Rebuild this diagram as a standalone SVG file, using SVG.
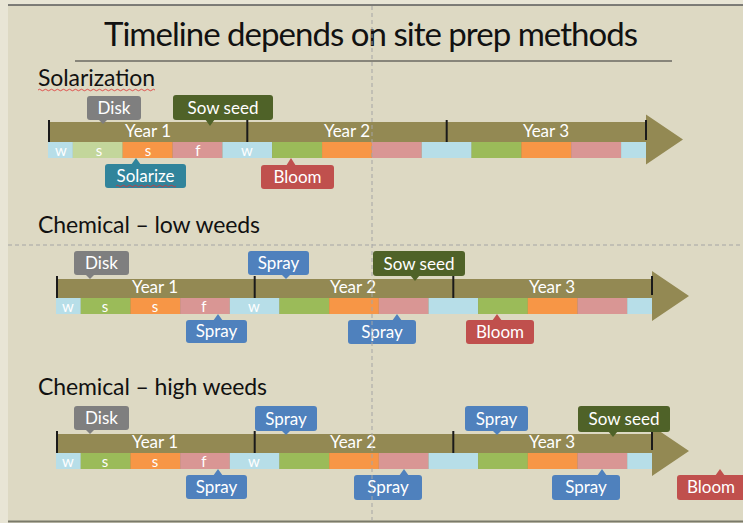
<svg xmlns="http://www.w3.org/2000/svg" width="743" height="523" viewBox="0 0 743 523">
<defs>
<style>
.bg{fill:#DDD9C3}
.arrow{fill:#938953}
.tick{stroke:#1a1a1a;stroke-width:2}
.w{fill:#B7DEE8}.sp{fill:#C3D69B}.g{fill:#9BBB59}.o{fill:#F79646}.p{fill:#D99694}
.lbl{font-family:Lato,"Open Sans",sans-serif;fill:#fff;font-size:17px;text-anchor:middle}
.sl{font-family:Lato,"Open Sans",sans-serif;fill:#fff;font-size:15px;text-anchor:middle}
.hd{font-family:Lato,"Open Sans",sans-serif;fill:#111;font-size:23px}
.gray{fill:#7F7F7F}.dgreen{fill:#4F6228}.teal{fill:#31849B}.red{fill:#C0504D}.blue{fill:#4F81BD}
.guide{stroke:#A5A5A5;stroke-width:1;stroke-dasharray:4 3;fill:none}
.squig{stroke:#E03030;stroke-width:0.8;fill:none}
</style>
</defs>
<rect width="743" height="523" fill="#E8E5D5"/>
<rect class="bg" x="8" y="5" width="735" height="516"/>
<line x1="8" y1="5" x2="743" y2="5" stroke="#5a5a5a" stroke-width="1.5"/>
<line x1="8" y1="521.5" x2="743" y2="521.5" stroke="#7a7a6a" stroke-width="2"/>

<g id="title">
<text x="371" y="46" font-family="Lato,'Open Sans',sans-serif" font-size="33" fill="#111" text-anchor="middle" textLength="534">Timeline depends on site prep methods</text>
<line x1="75" y1="61" x2="672" y2="61" stroke="#333" stroke-width="1.2"/>
</g>

<g id="heading-solarization">
<text class="hd" x="38" y="86" textLength="117">Solarization</text>
<path class="squig" d="M38 90 q1.5 -1.5 3 0 t3 0 t3 0 t3 0 t3 0 t3 0 t3 0 t3 0 t3 0 t3 0 t3 0 t3 0 t3 0 t3 0 t3 0 t3 0 t3 0 t3 0 t3 0 t3 0 t3 0 t3 0 t3 0 t3 0 t3 0 t3 0 t3 0 t3 0 t3 0 t3 0 t3 0 t3 0 t3 0 t3 0 t3 0 t3 0 t3 0 t3 0 t3 0"/>
</g>
<g id="heading-low">
<text class="hd" x="38" y="233" textLength="222">Chemical – low weeds</text>
</g>
<g id="heading-high">
<text class="hd" x="38" y="395" textLength="229">Chemical – high weeds</text>
</g>

<!-- Timeline 1 -->
<g id="timeline-solarization">
<polygon class="arrow" points="48,122 646,122 646,114.5 683,139.5 646,164.5 646,158 48,158"/>
<rect class="w" x="48" y="142" width="24.9" height="16"/>
<rect class="sp" x="72.9" y="142" width="49.8" height="16"/>
<rect class="o" x="122.7" y="142" width="49.9" height="16"/>
<rect class="p" x="172.6" y="142" width="49.8" height="16"/>
<rect class="w" x="222.4" y="142" width="49.8" height="16"/>
<rect class="g" x="272.2" y="142" width="49.9" height="16"/>
<rect class="o" x="322.1" y="142" width="49.8" height="16"/>
<rect class="p" x="371.9" y="142" width="49.8" height="16"/>
<rect class="w" x="421.7" y="142" width="49.9" height="16"/>
<rect class="g" x="471.6" y="142" width="49.8" height="16"/>
<rect class="o" x="521.4" y="142" width="49.8" height="16"/>
<rect class="p" x="571.2" y="142" width="49.9" height="16"/>
<rect class="w" x="621.1" y="142" width="24.9" height="16"/>
<line class="tick" x1="49" y1="120" x2="49" y2="142"/>
<line class="tick" x1="247.3" y1="120" x2="247.3" y2="142"/>
<line class="tick" x1="446.7" y1="120" x2="446.7" y2="142"/>
<line class="tick" x1="646" y1="120" x2="646" y2="140"/>
<text class="lbl" x="148" y="137">Year 1</text>
<text class="lbl" x="347" y="137">Year 2</text>
<text class="lbl" x="546" y="137">Year 3</text>
<text class="sl" x="61" y="156">w</text>
<text class="sl" x="99" y="156">s</text>
<text class="sl" x="148" y="156">s</text>
<text class="sl" x="198" y="156">f</text>
<text class="sl" x="247" y="156">w</text>
</g>

<!-- Timeline 2 -->
<g id="timeline-low">
<polygon class="arrow" points="56,279 652,279 652,271 689,296 652,321 652,314 56,314"/>
<rect class="w" x="56" y="298" width="24.8" height="16"/>
<rect class="g" x="80.8" y="298" width="49.7" height="16"/>
<rect class="o" x="130.5" y="298" width="49.7" height="16"/>
<rect class="p" x="180.2" y="298" width="49.6" height="16"/>
<rect class="w" x="229.8" y="298" width="49.7" height="16"/>
<rect class="g" x="279.5" y="298" width="49.7" height="16"/>
<rect class="o" x="329.2" y="298" width="49.6" height="16"/>
<rect class="p" x="378.8" y="298" width="49.7" height="16"/>
<rect class="w" x="428.5" y="298" width="49.7" height="16"/>
<rect class="g" x="478.2" y="298" width="49.6" height="16"/>
<rect class="o" x="527.8" y="298" width="49.7" height="16"/>
<rect class="p" x="577.5" y="298" width="49.7" height="16"/>
<rect class="w" x="627.2" y="298" width="24.8" height="16"/>
<line class="tick" x1="57" y1="276" x2="57" y2="298"/>
<line class="tick" x1="254.7" y1="276" x2="254.7" y2="298"/>
<line class="tick" x1="453.3" y1="276" x2="453.3" y2="298"/>
<line class="tick" x1="652" y1="276" x2="652" y2="295"/>
<text class="lbl" x="155" y="293">Year 1</text>
<text class="lbl" x="353" y="293">Year 2</text>
<text class="lbl" x="552" y="293">Year 3</text>
<text class="sl" x="68" y="312">w</text>
<text class="sl" x="105" y="312">s</text>
<text class="sl" x="155" y="312">s</text>
<text class="sl" x="204" y="312">f</text>
<text class="sl" x="254" y="312">w</text>
</g>

<!-- Timeline 3 -->
<g id="timeline-high">
<polygon class="arrow" points="56,434 652,434 652,426 689,451 652,476 652,469 56,469"/>
<rect class="w" x="56" y="453" width="24.8" height="16"/>
<rect class="g" x="80.8" y="453" width="49.7" height="16"/>
<rect class="o" x="130.5" y="453" width="49.7" height="16"/>
<rect class="p" x="180.2" y="453" width="49.6" height="16"/>
<rect class="w" x="229.8" y="453" width="49.7" height="16"/>
<rect class="g" x="279.5" y="453" width="49.7" height="16"/>
<rect class="o" x="329.2" y="453" width="49.6" height="16"/>
<rect class="p" x="378.8" y="453" width="49.7" height="16"/>
<rect class="w" x="428.5" y="453" width="49.7" height="16"/>
<rect class="g" x="478.2" y="453" width="49.6" height="16"/>
<rect class="o" x="527.8" y="453" width="49.7" height="16"/>
<rect class="p" x="577.5" y="453" width="49.7" height="16"/>
<rect class="w" x="627.2" y="453" width="24.8" height="16"/>
<line class="tick" x1="57" y1="431" x2="57" y2="453"/>
<line class="tick" x1="254.7" y1="431" x2="254.7" y2="453"/>
<line class="tick" x1="453.3" y1="431" x2="453.3" y2="453"/>
<line class="tick" x1="652" y1="431" x2="652" y2="450"/>
<text class="lbl" x="155" y="448">Year 1</text>
<text class="lbl" x="353" y="448">Year 2</text>
<text class="lbl" x="552" y="448">Year 3</text>
<text class="sl" x="68" y="467">w</text>
<text class="sl" x="105" y="467">s</text>
<text class="sl" x="155" y="467">s</text>
<text class="sl" x="204" y="467">f</text>
<text class="sl" x="254" y="467">w</text>
</g>

<!-- Callouts row 1 -->
<g id="r1-disk" class="gray"><rect x="87" y="96" width="54" height="24" rx="3"/><polygon points="98,119 108,119 103,124"/><text class="lbl" x="114" y="114">Disk</text></g>
<g id="r1-sow" class="dgreen"><rect x="173" y="95" width="100" height="25" rx="3"/><polygon points="205,119 215,119 210,126"/><text class="lbl" x="223" y="114">Sow seed</text></g>
<g id="r1-solarize" class="teal"><rect x="105" y="164" width="81" height="24" rx="3"/><polygon points="131,165 141,165 136,158"/><text class="lbl" x="145.5" y="182">Solarize</text>
<path class="squig" d="M116 186 q1.5 -1.5 3 0 t3 0 t3 0 t3 0 t3 0 t3 0 t3 0 t3 0 t3 0 t3 0 t3 0 t3 0 t3 0 t3 0 t3 0 t3 0 t3 0 t3 0 t3 0 t3 0"/></g>
<g id="r1-bloom" class="red"><rect x="261" y="165" width="73" height="24" rx="3"/><polygon points="286,166 296,166 291,158"/><text class="lbl" x="297.5" y="183">Bloom</text></g>

<!-- Callouts row 2 -->
<g id="r2-disk" class="gray"><rect x="74" y="251" width="55" height="24" rx="3"/><polygon points="85,274 95,274 90,279"/><text class="lbl" x="101.5" y="269">Disk</text></g>
<g id="r2-spray-top" class="blue"><rect x="248" y="251" width="61" height="24" rx="3"/><polygon points="281,274 291,274 286,279"/><text class="lbl" x="278.5" y="269">Spray</text></g>
<g id="r2-sow" class="dgreen"><rect x="373" y="251" width="92" height="25" rx="3"/><polygon points="410,275 420,275 415,281"/><text class="lbl" x="419" y="270">Sow seed</text></g>
<g id="r2-spray-1" class="blue"><rect x="186" y="320" width="61" height="23" rx="3"/><polygon points="213,321 223,321 218,314"/><text class="lbl" x="216.5" y="337">Spray</text></g>
<g id="r2-spray-2" class="blue"><rect x="348" y="320" width="68" height="24" rx="3"/><polygon points="392,321 402,321 397,314"/><text class="lbl" x="382" y="338">Spray</text></g>
<g id="r2-bloom" class="red"><rect x="466" y="320" width="68" height="24" rx="3"/><polygon points="492,321 502,321 497,314"/><text class="lbl" x="500" y="338">Bloom</text></g>

<!-- Callouts row 3 -->
<g id="r3-disk" class="gray"><rect x="74" y="406" width="55" height="24" rx="3"/><polygon points="85,429 95,429 90,434"/><text class="lbl" x="101.5" y="424">Disk</text></g>
<g id="r3-spray-top1" class="blue"><rect x="255" y="406" width="62" height="25" rx="3"/><polygon points="281,430 291,430 286,435"/><text class="lbl" x="286" y="425">Spray</text></g>
<g id="r3-spray-top2" class="blue"><rect x="465" y="406" width="63" height="25" rx="3"/><polygon points="492,430 502,430 497,435"/><text class="lbl" x="496.5" y="425">Spray</text></g>
<g id="r3-sow" class="dgreen"><rect x="578" y="406" width="92" height="26" rx="3"/><polygon points="608,431 618,431 613,437"/><text class="lbl" x="624" y="425">Sow seed</text></g>
<g id="r3-spray-1" class="blue"><rect x="186" y="475" width="61" height="24" rx="3"/><polygon points="213,476 223,476 218,469"/><text class="lbl" x="216.5" y="493">Spray</text></g>
<g id="r3-spray-2" class="blue"><rect x="354" y="475" width="68" height="25" rx="3"/><polygon points="399,476 409,476 404,469"/><text class="lbl" x="388" y="493">Spray</text></g>
<g id="r3-spray-3" class="blue"><rect x="552" y="475" width="68" height="25" rx="3"/><polygon points="597,476 607,476 602,469"/><text class="lbl" x="586" y="493">Spray</text></g>
<g id="r3-bloom" class="red"><rect x="677" y="475" width="70" height="25" rx="3"/><polygon points="715,476 725,476 720,469"/><text class="lbl" x="711" y="493">Bloom</text></g>

<g id="connectors"></g>

<g id="guides">
<line class="guide" x1="372" y1="6" x2="372" y2="521"/>
<line class="guide" x1="8" y1="245" x2="743" y2="245"/>
</g>
</svg>
